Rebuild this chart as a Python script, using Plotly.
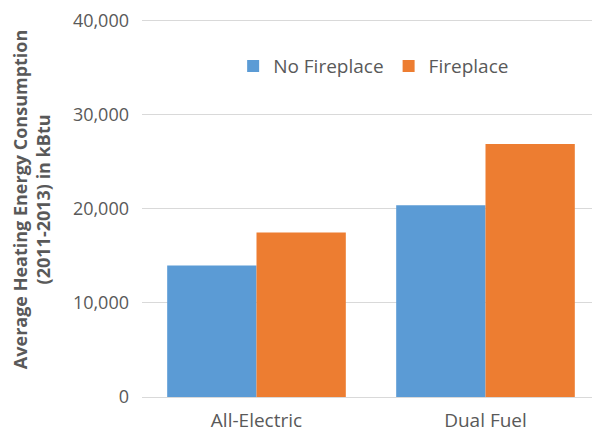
import plotly.graph_objects as go

categories = ["All-Electric", "Dual Fuel"]
no_fireplace = [14000, 20400]
fireplace = [17500, 26900]
y_ticks = [0, 10000, 20000, 30000, 40000]
y_tick_labels = ["0", "10,000", "20,000", "30,000", "40,000"]

FONT = "Open Sans"
TXT = "#595959"

fig = go.Figure()
fig.add_trace(go.Bar(x=categories, y=no_fireplace, name="No Fireplace",
                     marker=dict(color="#5B9BD5", line=dict(width=0))))
fig.add_trace(go.Bar(x=categories, y=fireplace, name="Fireplace",
                     marker=dict(color="#ED7D31", line=dict(width=0))))

fig.update_layout(
    width=592, height=425,
    margin=dict(l=134, r=0, t=8, b=32),
    paper_bgcolor="white", plot_bgcolor="white",
    barmode="group", bargap=0.22, bargroupgap=0,
    font=dict(family=FONT, color=TXT, size=18),
    showlegend=True,
    legend=dict(orientation="h", x=0.199, y=0.873, xanchor="left", yanchor="middle",
                font=dict(size=19, color=TXT), itemwidth=30, traceorder="normal",
                bgcolor="rgba(0,0,0,0)"),
    xaxis=dict(showgrid=False, showline=True, linecolor="#D9D9D9", linewidth=1,
               ticks="", tickfont=dict(size=19, color=TXT), ticklabelstandoff=6),
    yaxis=dict(range=[0, 40314], tickvals=y_ticks, ticktext=y_tick_labels,
               showgrid=True, gridcolor="#D9D9D9", gridwidth=1, zeroline=False,
               showline=False, ticks="", tickfont=dict(size=18, color=TXT),
               ticklabelstandoff=12, ticklabeloverflow="allow"),
    annotations=[dict(text="<b>Average Heating Energy Consumption<br>(2011-2013) in kBtu</b>",
                      xref="paper", yref="paper", x=-0.2424, y=0.522,
                      xanchor="center", yanchor="middle", textangle=-90,
                      showarrow=False, font=dict(size=18, color=TXT, family=FONT))],
)

fig.write_html("out.html")
